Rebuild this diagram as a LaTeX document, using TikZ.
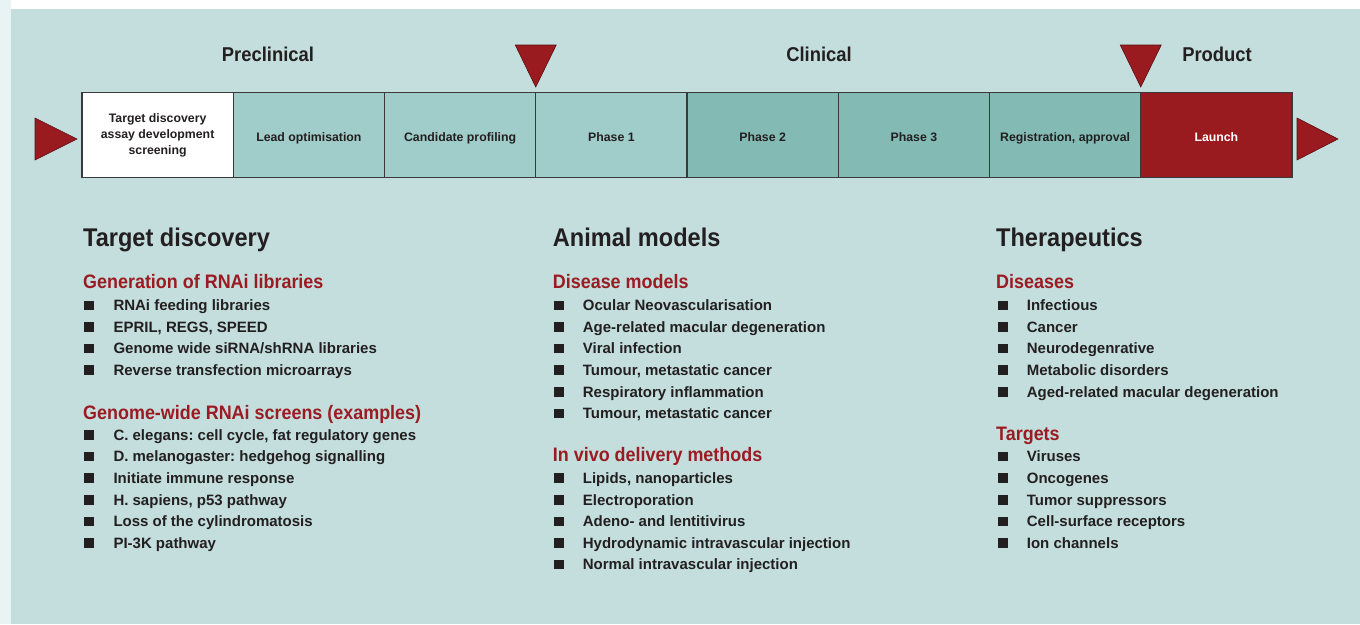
\documentclass[tikz,border=0pt]{standalone}
\usepackage{fontspec}
\setmainfont{Liberation Sans}
\newfontfamily\condfont{Liberation Sans}[FakeStretch=0.92]
\usepackage{tikz}
\frenchspacing

\definecolor{paneteal}{HTML}{C3DEDD}
\definecolor{edgestrip}{HTML}{E8F4F3}
\definecolor{palestage}{HTML}{A0CCC9}
\definecolor{deepstage}{HTML}{83BAB4}
\definecolor{launchred}{HTML}{991A1F}
\definecolor{markerdark}{HTML}{5C1014}
\definecolor{edgegrey}{HTML}{3A3A3A}
\definecolor{inkdark}{HTML}{231F20}
\definecolor{subred}{HTML}{9B1B22}

\begin{document}
\begin{tikzpicture}[x=1pt,y=-1pt,
  stage/.style={draw=edgegrey,line width=1.2pt,minimum width=151.25pt,minimum height=84.5pt,
    inner sep=0pt,align=center,text=inkdark,font=\bfseries\fontsize{12.3}{16}\selectfont},
  onerow/.style={text height=12pt,text depth=0pt},
  marker/.style={fill=launchred,draw=markerdark,line width=.6pt},
  phase/.style={anchor=base,inner sep=0pt,text=inkdark,font=\condfont\bfseries\fontsize{20}{24}\selectfont},
  head/.style={anchor=base west,inner sep=0pt,text=inkdark,font=\condfont\bfseries\fontsize{25.6}{30}\selectfont},
  sub/.style={anchor=base west,inner sep=0pt,text=subred,font=\condfont\bfseries\fontsize{19.5}{23}\selectfont},
  item/.style={anchor=base west,inner sep=0pt,text=inkdark,font=\bfseries\fontsize{15}{18}\selectfont},
  bullet/.style={fill=inkdark,minimum width=10pt,minimum height=9.5pt,inner sep=0pt}]
  \useasboundingbox (0,0) rectangle (1360,624);
  % panel
  \fill[white] (0,0) rectangle (1360,624);
  \fill[edgestrip] (0,0) rectangle (11,624);
  \fill[paneteal] (11,9) rectangle (1360,624);

  % pipeline bar
  \node[stage,fill=white] (s1) at (157.625,135) {Target discovery\\assay development\\screening};
  \node[stage,onerow,fill=palestage] (s2) at (308.875,135) {Lead optimisation};
  \node[stage,onerow,fill=palestage] (s3) at (460.125,135) {Candidate profiling};
  \node[stage,onerow,fill=palestage] (s4) at (611.375,135) {Phase 1};
  \node[stage,onerow,fill=deepstage] (s5) at (762.625,135) {Phase 2};
  \node[stage,onerow,fill=deepstage] (s6) at (913.875,135) {Phase 3};
  \node[stage,onerow,fill=deepstage] (s7) at (1065.125,135) {Registration, approval};
  \node[stage,onerow,fill=launchred,text=white] (s8) at (1216.375,135) {Launch};

  % markers
  \draw[marker] (35,118)--(77,139)--(35,160)--cycle;
  \draw[marker] (1297,118)--(1338,139)--(1297,160)--cycle;
  \draw[marker] (515.25,45)--(556.25,45)--(535.75,87)--cycle;
  \draw[marker] (1120.25,45)--(1161.25,45)--(1140.75,87)--cycle;

  \node[phase] (pre) at (268,61) {Preclinical};
  \node[phase] (cli) at (819,61) {Clinical};
  \node[phase] (pro) at (1217,61) {Product};

  % columns
  \node[head] (ha) at (83,246) {Target discovery};
  \node[head] (hb) at (552.7,246) {Animal models};
  \node[head] (hc) at (996,246) {Therapeutics};

  \node[sub] (ga) at (83,288.5) {Generation of RNAi libraries};
  \node[sub] (ka) at (83,419.5) {Genome-wide RNAi screens (examples)};
  \node[sub] (gb) at (552.7,288.5) {Disease models};
  \node[sub] (kb) at (552.7,461.5) {In vivo delivery methods};
  \node[sub] (gc) at (996,288.5) {Diseases};
  \node[sub] (kc) at (996,440) {Targets};

  \foreach \k/\t in {0/RNAi feeding libraries,1/{EPRIL, REGS, SPEED},
    2/{Genome wide siRNA/shRNA libraries},3/Reverse transfection microarrays,
    6/{C. elegans: cell cycle, fat regulatory genes},7/D. melanogaster: hedgehog signalling,
    8/Initiate immune response,9/{H. sapiens, p53 pathway},10/Loss of the cylindromatosis,
    11/PI-3K pathway}{
    \node[bullet] (ba\k) at (89.2,{305.4+21.6*\k}) {};
    \node[item] (a\k) at (113.3,{310.7+21.6*\k}) {\t};
  }
  \foreach \k/\t in {0/Ocular Neovascularisation,1/Age-related macular degeneration,
    2/Viral infection,3/{Tumour, metastatic cancer},4/Respiratory inflammation,
    5/{Tumour, metastatic cancer},8/{Lipids, nanoparticles},9/Electroporation,
    10/Adeno- and lentitivirus,11/Hydrodynamic intravascular injection,
    12/Normal intravascular injection}{
    \node[bullet] (bb\k) at (558.8,{305.4+21.6*\k}) {};
    \node[item] (b\k) at (582.7,{310.7+21.6*\k}) {\t};
  }
  \foreach \k/\t in {0/Infectious,1/Cancer,2/Neurodegenrative,3/Metabolic disorders,
    4/Aged-related macular degeneration,7/Viruses,8/Oncogenes,9/Tumor suppressors,
    10/Cell-surface receptors,11/Ion channels}{
    \node[bullet] (bc\k) at (1003,{305.4+21.6*\k}) {};
    \node[item] (c\k) at (1026.7,{310.7+21.6*\k}) {\t};
  }
\end{tikzpicture}
\end{document}
